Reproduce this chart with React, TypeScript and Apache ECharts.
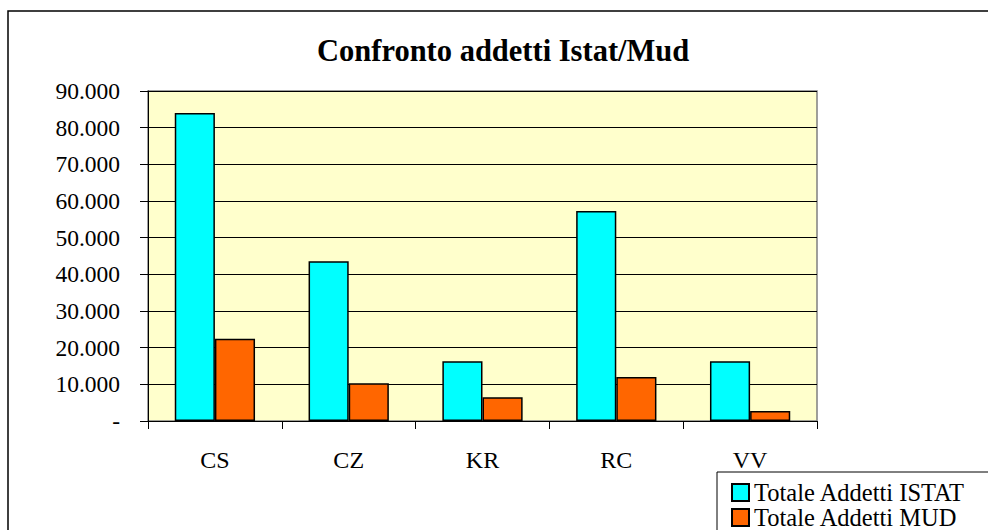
import React, { useEffect, useRef } from "react";
import * as echarts from "echarts";

const categories = ["CS", "CZ", "KR", "RC", "VV"];
const istat = [84000, 43600, 16300, 57300, 16300];
const mud = [22400, 10300, 6500, 12000, 2700];
const seriesNames = ["Totale Addetti ISTAT", "Totale Addetti MUD"];
const titleText = "Confronto addetti Istat/Mud";

const FONT = "Liberation Serif";

function fmt(v: number): string {
  if (v === 0) return "-";
  return String(v).replace(/\B(?=(\d{3})+(?!\d))/g, ".");
}

export default function App() {
  const ref = useRef<HTMLDivElement>(null);
  useEffect(() => {
    document.body.style.margin = "0";
    const chart = echarts.init(ref.current!, undefined, { renderer: "svg" });
    chart.setOption({
      animation: false,
      backgroundColor: "#ffffff",
      textStyle: { fontFamily: FONT },
      title: {
        text: titleText,
        left: 317,
        top: 35,
        padding: 0,
        textStyle: { fontFamily: FONT, fontSize: 30.5, fontWeight: "bold", color: "#000", lineHeight: 31 },
      },
      legend: {
        orient: "vertical",
        left: 731,
        top: 480,
        width: 300,
        height: 200,
        padding: 0,
        itemWidth: 17,
        itemHeight: 17,
        itemGap: 0,
        icon: "rect",
        textStyle: { fontFamily: FONT, fontSize: 24.5, lineHeight: 21, color: "#000" },
        data: seriesNames,
      },
      grid: {
        left: 148,
        top: 91,
        right: 171,
        bottom: 109,
        show: true,
        backgroundColor: "#FFFFCC",
        borderColor: "#808080",
        borderWidth: 1.5,
      },
      xAxis: {
        type: "category",
        data: categories,
        axisLine: { show: true, lineStyle: { color: "#000", width: 1 } },
        axisTick: { show: true, length: 8, alignWithLabel: false, lineStyle: { color: "#000" } },
        axisLabel: { margin: 27, fontFamily: FONT, fontSize: 24, lineHeight: 24, color: "#000" },
      },
      yAxis: {
        type: "value",
        min: 0,
        max: 90000,
        interval: 10000,
        axisLine: { show: true, lineStyle: { color: "#000", width: 1 } },
        axisTick: { show: true, length: 8, lineStyle: { color: "#000" } },
        axisLabel: { margin: 28, fontFamily: FONT, fontSize: 23.5, color: "#000", formatter: fmt },
        splitLine: { show: true, lineStyle: { color: "#000", width: 1 } },
      },
      series: [
        {
          name: seriesNames[0],
          type: "bar",
          data: istat,
          barGap: "0%",
          barCategoryGap: "40%",
          itemStyle: { color: "#00FFFF", borderColor: "#000", borderWidth: 1.5 },
        },
        {
          name: seriesNames[1],
          type: "bar",
          data: mud,
          itemStyle: { color: "#FF6600", borderColor: "#000", borderWidth: 1.5 },
        },
      ],
      graphic: [
        {
          type: "rect",
          shape: { x: 8, y: 11, width: 1000, height: 600 },
          style: { fill: "none", stroke: "#000", lineWidth: 1.5 },
          silent: true,
        },
        {
          type: "rect",
          shape: { x: 717, y: 472, width: 300, height: 100 },
          style: { fill: "none", stroke: "#000", lineWidth: 1 },
          silent: true,
        },
      ],
    });
    return () => chart.dispose();
  }, []);
  return <div ref={ref} style={{ width: 988, height: 530 }} />;
}
